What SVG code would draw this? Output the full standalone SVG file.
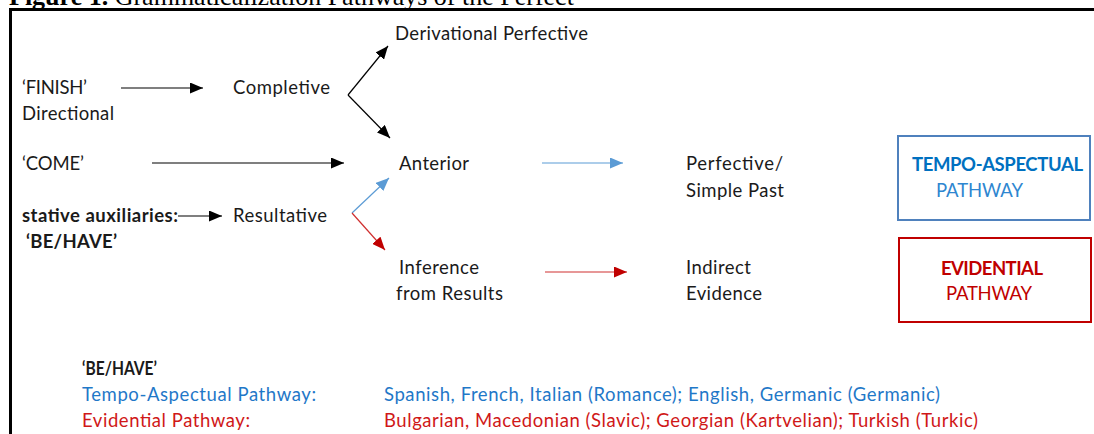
<svg xmlns="http://www.w3.org/2000/svg" width="1094" height="434" viewBox="0 0 1094 434">
<defs>
<style>
.t{font-family:Lato,"Liberation Sans",sans-serif;font-size:18.5px;fill:#1a1a1a}
.b{font-weight:bold}
.blue{fill:#0070c0}
.red{fill:#c00000}
.title{font-family:"Liberation Serif",serif;font-size:26px;fill:#000}
.k{stroke:#000;stroke-width:1.2;fill:none}
.kb{stroke:#5b9bd5;stroke-width:1.2;fill:none}
.kr{stroke:#d03030;stroke-width:1.2;fill:none}
</style>
<marker id="ah" viewBox="0 0 13 11" refX="13" refY="5.5" markerWidth="13" markerHeight="11" markerUnits="userSpaceOnUse" orient="auto"><path d="M0,0 L13,5.5 L0,11 Z" fill="#000"/></marker>
<marker id="ahb" viewBox="0 0 13 11" refX="13" refY="5.5" markerWidth="13" markerHeight="11" markerUnits="userSpaceOnUse" orient="auto"><path d="M0,0 L13,5.5 L0,11 Z" fill="#5b9bd5"/></marker>
<marker id="ahr" viewBox="0 0 13 11" refX="13" refY="5.5" markerWidth="13" markerHeight="11" markerUnits="userSpaceOnUse" orient="auto"><path d="M0,0 L13,5.5 L0,11 Z" fill="#c00000"/></marker>
</defs>
<rect width="1094" height="434" fill="#fff"/>
<text class="title" x="9" y="5"><tspan font-weight="bold">Figure 1.</tspan> Grammaticalization Pathways of the Perfect</text>
<path d="M10.5,434 V9.5 H1094" stroke="#000" stroke-width="3" fill="none"/>

<g id="connectors">
<line class="k" x1="121" y1="88" x2="203" y2="88" marker-end="url(#ah)"/>
<line class="k" x1="152" y1="163" x2="344" y2="163" marker-end="url(#ah)"/>
<line class="k" x1="178" y1="216" x2="222" y2="216" marker-end="url(#ah)"/>
<line class="k" x1="348" y1="95" x2="388" y2="46" marker-end="url(#ah)"/>
<line class="k" x1="348" y1="95" x2="390" y2="138" marker-end="url(#ah)"/>
<line class="kb" x1="352" y1="213" x2="389" y2="178" marker-end="url(#ahb)"/>
<line class="kr" x1="352" y1="213" x2="385" y2="250" marker-end="url(#ahr)"/>
<line class="kb" x1="542" y1="163" x2="623" y2="163" marker-end="url(#ahb)"/>
<line class="kr" x1="545" y1="272" x2="627" y2="272" marker-end="url(#ahr)"/>
</g>

<g id="derivational"><text class="t" x="395" y="40" textLength="193">Derivational Perfective</text></g>
<g id="finish"><text class="t" x="22" y="94" textLength="65">‘FINISH’</text><text class="t" x="22" y="120" textLength="92">Directional</text></g>
<g id="completive"><text class="t" x="233" y="94" textLength="97">Completive</text></g>
<g id="come"><text class="t" x="22" y="170" textLength="62">‘COME’</text></g>
<g id="anterior"><text class="t" x="399" y="170" textLength="70">Anterior</text></g>
<g id="perfective"><text class="t" x="686" y="170" textLength="97">Perfective/</text><text class="t" x="686" y="197" textLength="98">Simple Past</text></g>
<g id="stative"><text class="t b" x="22" y="222" textLength="156">stative auxiliaries:</text><text class="t b" x="26" y="248" textLength="91">‘BE/HAVE’</text></g>
<g id="resultative"><text class="t" x="233" y="222" textLength="94">Resultative</text></g>
<g id="inference"><text class="t" x="399" y="274" textLength="80">Inference</text><text class="t" x="396" y="300" textLength="107">from Results</text></g>
<g id="indirect"><text class="t" x="686" y="274" textLength="65">Indirect</text><text class="t" x="686" y="300" textLength="76">Evidence</text></g>
<g id="tempo-box"><rect x="898" y="136" width="192" height="84" fill="none" stroke="#4f81bd" stroke-width="2"/><text class="t b blue" x="912" y="171" textLength="171">TEMPO-ASPECTUAL</text><text class="t blue" x="936" y="197" textLength="87" style="fill:#2e86d0">PATHWAY</text></g>
<g id="evidential-box"><rect x="899" y="238" width="192" height="84" fill="none" stroke="#c00000" stroke-width="2"/><text class="t b red" x="941" y="275" textLength="102">EVIDENTIAL</text><text class="t red" x="946" y="300" textLength="86">PATHWAY</text></g>
<g id="legend">
<text class="t b" x="82" y="375" textLength="75" lengthAdjust="spacingAndGlyphs" style="font-size:18px">‘BE/HAVE’</text>
<text class="t blue" x="82" y="401" textLength="234" style="fill:#1f78c8">Tempo-Aspectual Pathway:</text>
<text class="t blue" x="384" y="401" textLength="556" style="fill:#1f78c8">Spanish, French, Italian (Romance); English, Germanic (Germanic)</text>
<text class="t red" x="82" y="427" textLength="168" style="fill:#d01818">Evidential Pathway:</text>
<text class="t red" x="384" y="427" textLength="594" style="fill:#d01818">Bulgarian, Macedonian (Slavic); Georgian (Kartvelian); Turkish (Turkic)</text>
</g>
</svg>
